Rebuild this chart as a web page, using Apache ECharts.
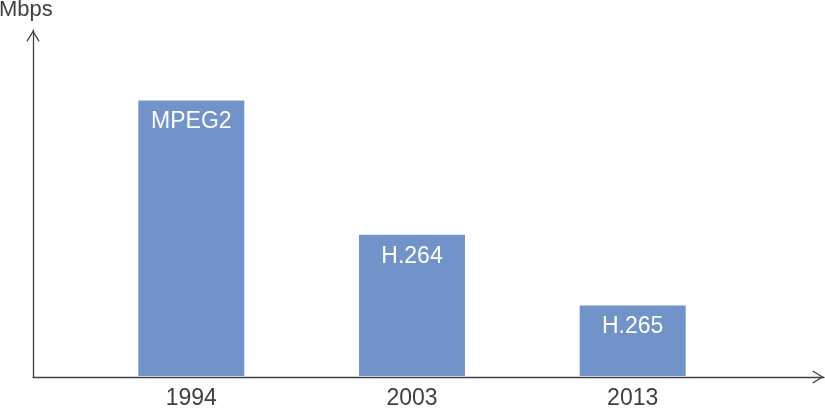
<!DOCTYPE html>
<html>
<head>
<meta charset="utf-8">
<script src="https://cdn.jsdelivr.net/npm/echarts@6/dist/echarts.min.js"></script>
<style>
html,body{margin:0;padding:0;background:#fff;}
#chart{width:825px;height:410px;}
</style>
</head>
<body>
<div id="chart"></div>
<script>
var years = ['1994', '2003', '2013'];
var codecs = ['MPEG2', 'H.264', 'H.265'];
var bitrates = [7.8, 4.0, 2.0];
var yMax = 9.8;
var unitName = 'Mbps';

var axisColor = '#404040';
var chevron = 'path://M13,0 L26,21 L24.2,22.6 L13,4.6 L1.8,22.6 L0,21 Z';

var chart = echarts.init(document.getElementById('chart'));
chart.setOption({
  animation: false,
  title: {
    text: unitName, left: -1, top: -1,
    textStyle: { fontFamily: 'Liberation Sans, Arial, sans-serif', fontSize: 22, fontWeight: 'normal', color: axisColor },
    padding: 0
  },
  grid: [
    { left: 33, right: 1, top: 30, bottom: 33 },
    { left: 81, right: 82, top: 30, bottom: 33 }
  ],
  xAxis: [
    {
      gridIndex: 0, type: 'value', min: 0, max: 1,
      axisLine: { show: true, lineStyle: { color: axisColor, width: 1.3 },
        symbol: ['none', chevron], symbolSize: [13, 12], symbolOffset: [0, -6] },
      axisTick: { show: false }, axisLabel: { show: false }, splitLine: { show: false }
    },
    {
      gridIndex: 1, type: 'category', data: years,
      axisLine: { show: false }, axisTick: { show: false },
      axisLabel: { margin: 11, fontFamily: 'Liberation Sans, Arial, sans-serif', fontSize: 23, color: axisColor },
      splitLine: { show: false }
    }
  ],
  yAxis: [
    {
      gridIndex: 0, type: 'value', min: 0, max: 1,
      axisLine: { show: true, lineStyle: { color: axisColor, width: 1.3 },
        symbol: ['none', chevron], symbolSize: [13, 12], symbolOffset: [0, -6] },
      axisTick: { show: false }, axisLabel: { show: false }, splitLine: { show: false }
    },
    {
      gridIndex: 1, type: 'value', min: 0, max: yMax,
      axisLine: { show: false }, axisTick: { show: false }, axisLabel: { show: false }, splitLine: { show: false }
    }
  ],
  series: [{
    type: 'bar', xAxisIndex: 1, yAxisIndex: 1,
    data: bitrates, barWidth: 106,
    itemStyle: { color: '#7292CA' },
    label: {
      show: true, position: 'insideTop', distance: 10,
      formatter: function (p) { return codecs[p.dataIndex]; },
      fontFamily: 'Liberation Sans, Arial, sans-serif', fontSize: 23, color: '#ffffff'
    }
  }]
});
</script>
</body>
</html>
